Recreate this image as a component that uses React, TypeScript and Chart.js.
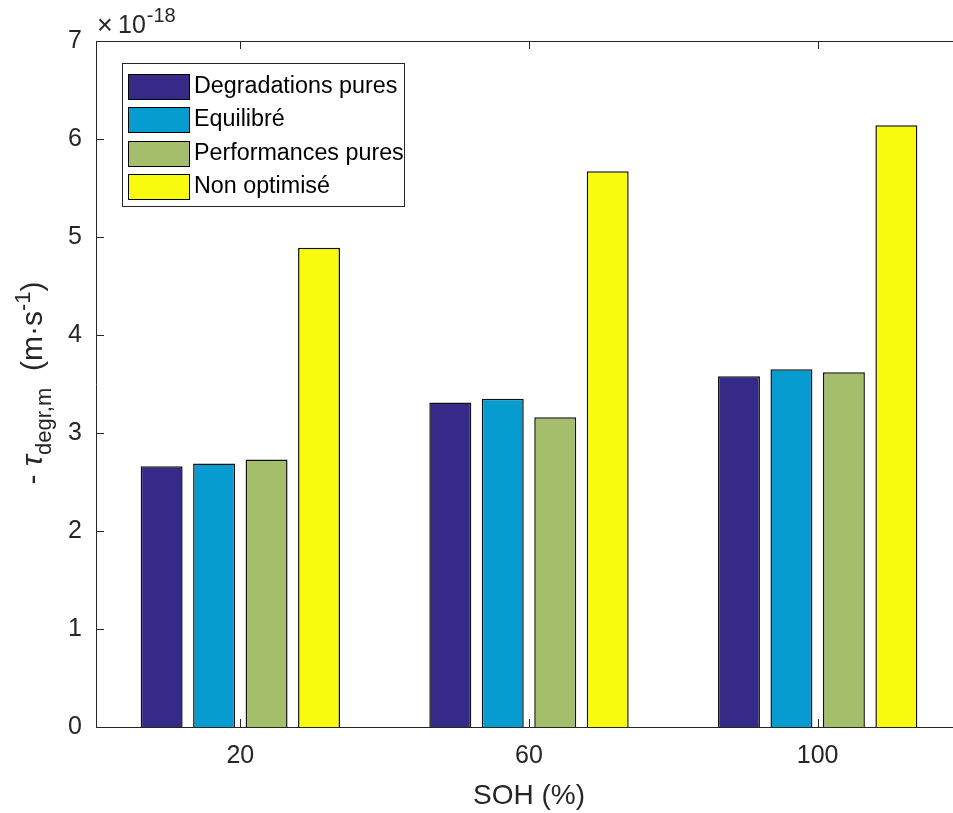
import React, { useEffect, useRef } from "react";
import { Chart, registerables } from "chart.js";

Chart.register(...registerables);

const categories = ["20", "60", "100"];
const seriesNames = ["Degradations pures", "Equilibré", "Performances pures", "Non optimisé"];
const degradationsPures = [2.66, 3.31, 3.58];
const equilibre = [2.69, 3.35, 3.65];
const performancesPures = [2.73, 3.16, 3.62];
const nonOptimise = [4.89, 5.67, 6.14];
const seriesColors = ["#352a87", "#079cd0", "#a5be6b", "#f9fb0e"];
const yTicks = [0, 1, 2, 3, 4, 5, 6, 7];

const FONT = "'Liberation Sans', Arial, Helvetica, sans-serif";
const AX = "#262626";

const overlay = {
  id: "matlabOverlay",
  afterDatasetsDraw(chart: any) {
    const ctx = chart.ctx;
    const { left, right, top, bottom } = chart.chartArea;
    const xs = chart.scales.x;
    const ys = chart.scales.y;
    ctx.save();
    // axes box
    ctx.strokeStyle = AX;
    ctx.lineWidth = 1;
    ctx.beginPath();
    ctx.moveTo(left + 0.5, bottom + 0.5);
    ctx.lineTo(left + 0.5, top + 0.5);
    ctx.lineTo(right, top + 0.5);
    ctx.moveTo(left + 0.5, bottom + 0.5);
    ctx.lineTo(right, bottom + 0.5);
    ctx.stroke();
    // ticks
    ctx.beginPath();
    yTicks.forEach((v) => {
      const py = Math.round(ys.getPixelForValue(v)) + 0.5;
      ctx.moveTo(left, py);
      ctx.lineTo(left + 8, py);
    });
    categories.forEach((_, i) => {
      const px = Math.round(xs.getPixelForValue(i)) + 0.5;
      ctx.moveTo(px, bottom);
      ctx.lineTo(px, bottom - 8);
      ctx.moveTo(px, top);
      ctx.lineTo(px, top + 8);
    });
    ctx.stroke();

    // exponent
    ctx.fillStyle = AX;
    ctx.textBaseline = "alphabetic";
    ctx.textAlign = "left";
    ctx.font = `27px ${FONT}`;
    ctx.fillText("×", 97, 34);
    ctx.font = `25px ${FONT}`;
    ctx.fillText("10", 118, 33);
    const w10 = ctx.measureText("10").width;
    ctx.font = `20px ${FONT}`;
    ctx.fillText("-18", 118 + w10 + 1, 22);

    // y title
    const main = `30px ${FONT}`;
    const sub = `22px ${FONT}`;
    const pieces = [
      { t: "- ", f: main, dy: 0 },
      { t: "τ", f: `italic ${main}`, dy: 0 },
      { t: "degr,m", f: sub, dy: 9 },
      { t: "  (m·s", f: main, dy: 0 },
      { t: "-1", f: sub, dy: -12 },
      { t: ")", f: main, dy: 0 },
    ];
    let total = 0;
    const widths = pieces.map((p) => {
      ctx.font = p.f;
      const w = ctx.measureText(p.t).width;
      total += w;
      return w;
    });
    ctx.translate(42, 383);
    ctx.rotate(-Math.PI / 2);
    let cx = -total / 2;
    pieces.forEach((p, i) => {
      ctx.font = p.f;
      ctx.fillText(p.t, cx, p.dy);
      cx += widths[i];
    });
    ctx.setTransform(1, 0, 0, 1, 0, 0);

    // legend
    const lx = 122.5, ly = 63.5, lw = 282, lh = 143;
    ctx.fillStyle = "#ffffff";
    ctx.fillRect(lx, ly, lw, lh);
    ctx.strokeStyle = AX;
    ctx.strokeRect(lx, ly, lw, lh);
    const rowsY = [74, 107.3, 140.6, 174];
    chart.data.datasets.forEach((ds: any, i: number) => {
      const sy = Math.round(rowsY[i]);
      ctx.fillStyle = ds.backgroundColor;
      ctx.fillRect(128.5, sy + 0.5, 61, 25);
      ctx.strokeStyle = "#000";
      ctx.strokeRect(128.5, sy + 0.5, 61, 25);
      ctx.fillStyle = "#000";
      ctx.font = `23.3px ${FONT}`;
      ctx.textBaseline = "middle";
      ctx.fillText(ds.label, 194, sy + 13);
    });
    ctx.restore();
  },
};

export default function App() {
  const ref = useRef<HTMLCanvasElement | null>(null);
  useEffect(() => {
    if (!ref.current) return;
    const values = [degradationsPures, equilibre, performancesPures, nonOptimise];
    const chart = new Chart(ref.current, {
      type: "bar",
      data: {
        labels: categories,
        datasets: values.map((v, i) => ({
          label: seriesNames[i],
          data: v,
          backgroundColor: seriesColors[i],
          borderColor: "#111111",
          borderWidth: 1.5,
          categoryPercentage: 0.727,
          barPercentage: 0.8,
        })),
      },
      options: {
        responsive: false,
        animation: false,
        devicePixelRatio: 1,
        layout: { padding: { top: 41, left: 0, right: 0, bottom: 0 } },
        plugins: { legend: { display: false }, tooltip: { enabled: false } },
        scales: {
          x: {
            type: "category",
            offset: true,
            grid: { display: false, drawTicks: false },
            border: { display: false },
            ticks: { font: { size: 25, family: FONT }, color: AX, padding: 14, maxRotation: 0 },
            title: {
              display: true,
              text: "SOH (%)",
              font: { size: 28, family: FONT },
              color: AX,
              padding: { top: 0, bottom: 0 },
            },
            afterFit: (s: any) => { s.height = 86; },
          },
          y: {
            min: 0,
            max: 7,
            grid: { display: false, drawTicks: false },
            border: { display: false },
            ticks: { stepSize: 1, font: { size: 25, family: FONT }, color: AX, padding: 14 },
            afterFit: (s: any) => { s.width = 96; },
          },
        },
      },
      plugins: [overlay],
    });
    return () => chart.destroy();
  }, []);
  return (
    <div style={{ position: "fixed", left: 0, top: 0, width: 953, height: 813, overflow: "hidden", background: "#fff" }}>
      <canvas ref={ref} width={962} height={813} style={{ width: 962, height: 813, display: "block" }} />
    </div>
  );
}
